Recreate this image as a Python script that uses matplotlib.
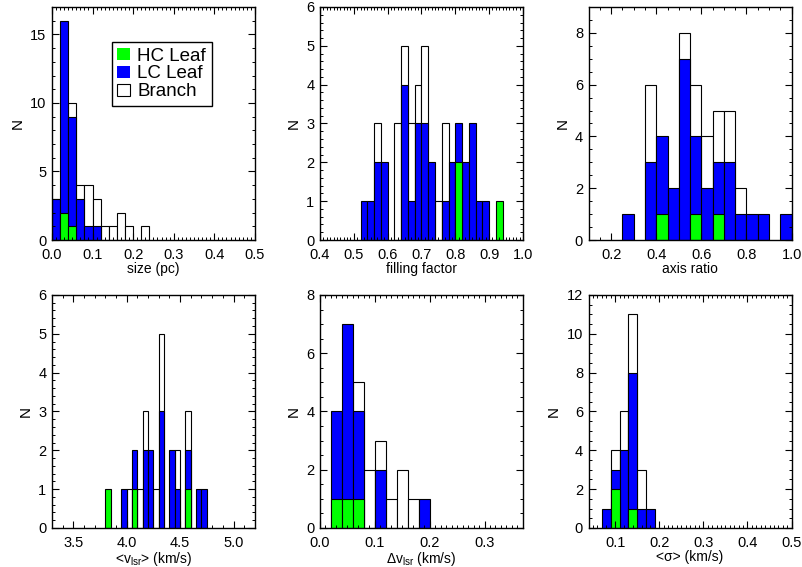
import numpy as np
import matplotlib
matplotlib.use("Agg")
import matplotlib.pyplot as plt
from matplotlib.patches import Patch
from matplotlib.ticker import MultipleLocator

plt.rcParams['font.family'] = ['Liberation Sans', 'DejaVu Sans']
plt.rcParams['mathtext.fontset'] = 'custom'
plt.rcParams['mathtext.rm'] = 'Liberation Sans'
plt.rcParams['mathtext.it'] = 'Liberation Sans:italic'

GREEN = '#00ff00'
BLUE = '#0000ff'

# size (pc): bins 0.02 wide starting at 0.0
size_start, size_width = 0.0, 0.02
size_branch = [3, 0, 10, 4, 4, 3, 1, 1, 2, 1, 0, 1]
size_lc = [3, 16, 9, 3, 1, 1, 0, 0, 0, 0, 0, 0]
size_hc = [0, 2, 1, 0, 0, 0, 0, 0, 0, 0, 0, 0]

# filling factor: bins 0.02 wide starting at 0.52
ff_start, ff_width = 0.52, 0.02
ff_branch = [0, 0, 3, 0, 0, 3, 5, 3, 4, 5, 0, 1, 3, 0, 0, 0, 0, 0, 0, 0, 0]
ff_lc = [1, 1, 2, 2, 0, 0, 4, 1, 3, 3, 2, 0, 1, 2, 3, 2, 3, 1, 1, 0, 0]
ff_hc = [0, 0, 0, 0, 0, 0, 0, 0, 0, 0, 0, 0, 0, 0, 2, 0, 0, 0, 0, 0, 1]

# axis ratio: bins 0.05 wide starting at 0.25
ar_start, ar_width = 0.25, 0.05
ar_branch = [0, 0, 6, 0, 0, 8, 6, 4, 5, 5, 2, 0, 0, 0, 0]
ar_lc = [1, 0, 3, 4, 2, 7, 4, 2, 3, 3, 1, 1, 1, 0, 1]
ar_hc = [0, 0, 0, 1, 0, 0, 1, 0, 1, 0, 0, 0, 0, 0, 0]

# <v_lsr>: bins 0.05 wide starting at 3.80
v_start, v_width = 3.80, 0.05
v_branch = [0, 0, 0, 0, 1, 0, 1, 3, 0, 1, 5, 0, 0, 2, 0, 3, 0, 0, 0]
v_lc = [0, 0, 0, 1, 0, 2, 0, 2, 2, 0, 3, 0, 2, 1, 0, 2, 0, 1, 1]
v_hc = [1, 0, 0, 0, 0, 1, 0, 0, 0, 0, 0, 0, 0, 0, 0, 1, 0, 0, 0]

# delta v_lsr: bins 0.02 wide starting at 0.02
dv_start, dv_width = 0.02, 0.02
dv_branch = [0, 0, 5, 2, 3, 1, 2, 1, 0]
dv_lc = [4, 7, 4, 0, 2, 0, 0, 0, 1]
dv_hc = [1, 1, 1, 0, 0, 0, 0, 0, 0]

# <sigma>: bins 0.02 wide starting at 0.07
sg_start, sg_width = 0.07, 0.02
sg_branch = [0, 4, 6, 11, 3, 0]
sg_lc = [1, 3, 4, 8, 1, 1]
sg_hc = [0, 2, 0, 1, 0, 0]

panels = [
    # (start, width, branch, lc, hc, xlim, ylim, xmajor, xminor, ymajor, yminor, xlabel)
    (size_start, size_width, size_branch, size_lc, size_hc, (0, 0.5), (0, 17), 0.1, 0.01, 5, 1, 'size (pc)'),
    (ff_start, ff_width, ff_branch, ff_lc, ff_hc, (0.4, 1.0), (0, 6), 0.1, 0.01, 1, 0.2, 'filling factor'),
    (ar_start, ar_width, ar_branch, ar_lc, ar_hc, (0.1, 1.0), (0, 9), 0.2, 0.05, 2, 0.5, 'axis ratio'),
    (v_start, v_width, v_branch, v_lc, v_hc, (3.3, 5.2), (0, 6), 0.5, 0.1, 1, 0.2, r'<v$_{\rm lsr}$> (km/s)'),
    (dv_start, dv_width, dv_branch, dv_lc, dv_hc, (0, 0.37), (0, 8), 0.1, 0.01, 2, 0.5, r'$\Delta$v$_{\rm lsr}$ (km/s)'),
    (sg_start, sg_width, sg_branch, sg_lc, sg_hc, (0.04, 0.5), (0, 12), 0.1, 0.01, 2, 0.5, '<σ> (km/s)'),
]

fig = plt.figure(figsize=(8.02, 5.67), dpi=100)
lefts = [0.0648, 0.399, 0.734]
bottoms = [0.5767, 0.0688]
w, h = 0.253, 0.411

for i, (start, width, br, lc, hc, xl, yl, xma, xmi, yma, ymi, lab) in enumerate(panels):
    ax = fig.add_axes([lefts[i % 3], bottoms[i // 3], w, h])
    x = start + width * np.arange(len(br))
    br = np.array(br)
    lc = np.array(lc)
    hc = np.array(hc)
    m = br > 0
    ax.bar(x[m], br[m], width=width, align='edge', color='white', edgecolor='black', linewidth=0.8)
    m = lc > 0
    ax.bar(x[m], lc[m], width=width, align='edge', color=BLUE, edgecolor='black', linewidth=0.8)
    m = hc > 0
    ax.bar(x[m], hc[m], width=width, align='edge', color=GREEN, edgecolor='black', linewidth=0.8)
    ax.set_xlim(*xl)
    ax.set_ylim(*yl)
    ax.xaxis.set_major_locator(MultipleLocator(xma))
    ax.xaxis.set_minor_locator(MultipleLocator(xmi))
    ax.yaxis.set_major_locator(MultipleLocator(yma))
    ax.yaxis.set_minor_locator(MultipleLocator(ymi))
    ax.xaxis.set_major_formatter(plt.FormatStrFormatter('%.1f'))
    ax.yaxis.set_major_formatter(plt.FormatStrFormatter('%d'))
    ax.tick_params(which='both', direction='in', top=True, right=True, labelsize=10.5)
    ax.tick_params(axis='x', pad=6)
    ax.tick_params(axis='y', pad=4)
    ax.tick_params(which='major', length=5, width=0.8)
    ax.tick_params(which='minor', length=2.5, width=0.7)
    for s in ax.spines.values():
        s.set_linewidth(1.0)
    ax.set_xlabel(lab, fontsize=10, labelpad=0)
    ax.set_ylabel('N', fontsize=11, labelpad=4)

    if i == 0:
        handles = [Patch(facecolor=GREEN, edgecolor='none', label='HC Leaf'),
                   Patch(facecolor=BLUE, edgecolor='none', label='LC Leaf'),
                   Patch(facecolor='white', edgecolor='black', linewidth=0.8, label='Branch')]
        leg = ax.legend(handles=handles, loc='upper left', bbox_to_anchor=(0.295, 0.85),
                        fontsize=13.5, fancybox=False, framealpha=1, edgecolor='black',
                        handlelength=0.65, handleheight=0.65, handletextpad=0.4,
                        labelspacing=0.05, borderpad=0.3, borderaxespad=0)
        leg.get_frame().set_linewidth(1.0)

fig.savefig('out.png', dpi=100)
